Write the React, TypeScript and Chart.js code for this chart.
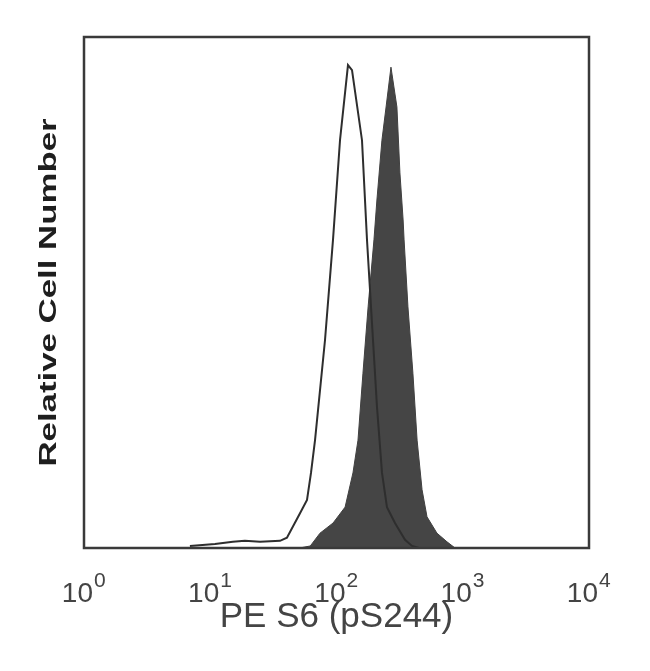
import React, { useEffect, useRef } from "react";
import { Chart, registerables } from "chart.js";

Chart.register(...registerables);

// Open (unfilled) histogram: fluorescence intensity vs relative cell number
const openX = [6.9, 10.9, 15.1, 18.8, 24.8, 35.7, 40.5, 51.4, 58.4, 62.8, 67.6, 81.1, 93.8, 106.6, 123.3, 132.7, 159.2, 174.4, 194.6, 209.3, 229.3, 251, 290.5, 348.8, 396.5, 450];
const openY = [0.4, 0.8, 1.2, 1.4, 1.2, 1.4, 2.0, 6.8, 9.4, 14.7, 21.1, 40.7, 60.3, 79.8, 94.5, 93.5, 79.8, 60.3, 40.7, 27.6, 14.7, 8.0, 4.9, 1.6, 0.4, 0];

// Filled histogram (PE S6 pS244 stained)
const fillX = [51, 62, 74, 94, 117, 135, 148, 162, 178, 198, 209, 229, 247, 270, 301, 318, 337, 343, 368, 403, 435, 476, 521, 625, 751, 869];
const fillY = [0, 0.4, 2.9, 4.9, 8.0, 14.7, 21.1, 34.2, 47.2, 60.3, 68.1, 79.8, 86.3, 94.1, 86.3, 73.4, 64.2, 60.3, 47.2, 34.2, 21.1, 11.4, 6.1, 2.9, 1.2, 0];

const tickExponents = ["0", "1", "2", "3", "4"];
const xTitle = "PE S6 (pS244)";
const yTitle = "Relative Cell Number";

const textPlugin = {
  id: "flowText",
  afterDraw(chart: any) {
    const { ctx, chartArea } = chart;
    const xs = chart.scales.x;
    ctx.save();
    // frame
    ctx.strokeStyle = "#3a3a3a";
    ctx.lineWidth = 2.5;
    ctx.strokeRect(chartArea.left, chartArea.top, chartArea.right - chartArea.left, chartArea.bottom - chartArea.top);

    // tick labels 10^n
    ctx.fillStyle = "#444";
    tickExponents.forEach((e) => {
      const px = xs.getPixelForValue(Math.pow(10, Number(e)));
      ctx.font = "28px 'Liberation Sans', Arial, sans-serif";
      ctx.textAlign = "right";
      ctx.textBaseline = "alphabetic";
      ctx.fillText("10", px + 9, chartArea.bottom + 54);
      ctx.font = "21px 'Liberation Sans', Arial, sans-serif";
      ctx.textAlign = "left";
      ctx.fillText(e, px + 10, chartArea.bottom + 39);
    });

    // x title
    ctx.font = "35px 'Liberation Sans', Arial, sans-serif";
    ctx.textAlign = "center";
    ctx.fillStyle = "#444";
    ctx.fillText(xTitle, (chartArea.left + chartArea.right) / 2, chartArea.bottom + 79);

    // y title
    ctx.translate(chartArea.left - 28, (chartArea.top + chartArea.bottom) / 2);
    ctx.rotate(-Math.PI / 2);
    ctx.scale(1.45, 1);
    ctx.font = "bold 24px 'Liberation Sans', Arial, sans-serif";
    ctx.fillStyle = "#1e1e1e";
    ctx.textAlign = "center";
    ctx.fillText(yTitle, 0, 0);
    ctx.restore();
  },
};

export default function App() {
  const ref = useRef<HTMLCanvasElement | null>(null);
  useEffect(() => {
    if (!ref.current) return;
    const chart = new Chart(ref.current, {
      type: "line",
      data: {
        datasets: [
          {
            label: "open",
            data: openX.map((x, i) => ({ x, y: openY[i] })),
            borderColor: "#2e2e2e",
            borderWidth: 2,
            fill: false,
            pointRadius: 0,
            tension: 0,
            order: 0,
          },
          {
            label: "filled",
            data: fillX.map((x, i) => ({ x, y: fillY[i] })),
            borderColor: "#404040",
            backgroundColor: "#454545",
            borderWidth: 1,
            fill: "origin",
            pointRadius: 0,
            tension: 0,
            order: 1,
          },
        ],
      },
      options: {
        animation: false,
        responsive: false,
        maintainAspectRatio: false,
        layout: { padding: { left: 84, right: 61, top: 37, bottom: 123 } },
        plugins: { legend: { display: false }, tooltip: { enabled: false } },
        scales: {
          x: { type: "logarithmic", min: 1, max: 10000, display: false },
          y: { type: "linear", min: 0, max: 100, display: false },
        },
      },
      plugins: [textPlugin],
    });
    return () => chart.destroy();
  }, []);
  return (
    <div style={{ position: "absolute", left: 0, top: 0, width: 650, height: 671, background: "#fff" }}>
      <canvas ref={ref} width={650} height={671} />
    </div>
  );
}
